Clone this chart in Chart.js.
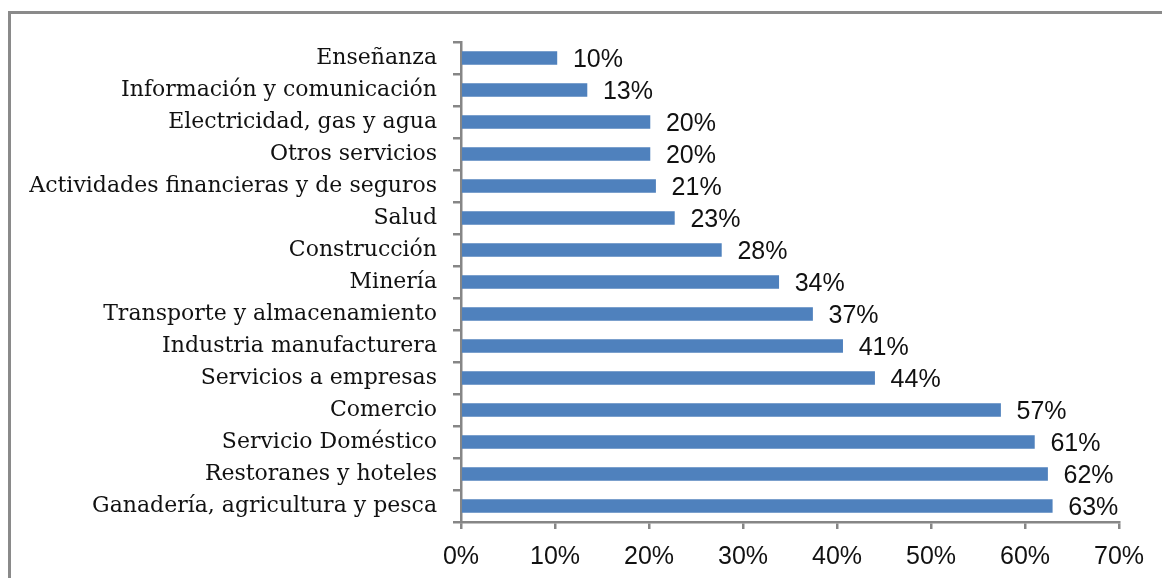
<!DOCTYPE html>
<html>
<head>
<meta charset="utf-8">
<script src="https://cdn.jsdelivr.net/npm/chart.js"></script>
<style>
  html, body { margin: 0; padding: 0; background: #fff; }
  #wrap { position: relative; width: 1162px; height: 578px; overflow: hidden; }
  #frame { position: absolute; left: 8px; top: 11px; width: 1300px; height: 700px;
           border-left: 3px solid #8a8a8a; border-top: 3px solid #8a8a8a; }
  canvas { position: absolute; left: 0; top: 0; }
</style>
</head>
<body>
<div id="wrap">
  <div id="frame"></div>
  <canvas id="chart" width="1162" height="578"></canvas>
</div>
<script>
// sectors, top to bottom
const sectors = [
  'Enseñanza',
  'Información y comunicación',
  'Electricidad, gas y agua',
  'Otros servicios',
  'Actividades financieras y de seguros',
  'Salud',
  'Construcción',
  'Minería',
  'Transporte y almacenamiento',
  'Industria manufacturera',
  'Servicios a empresas',
  'Comercio',
  'Servicio Doméstico',
  'Restoranes y hoteles',
  'Ganadería, agricultura y pesca'
];
// share, in percent
const shares = [10.2, 13.4, 20.1, 20.1, 20.7, 22.7, 27.7, 33.8, 37.4, 40.6, 44.0, 57.4, 61.0, 62.4, 62.9];
const xTicks = [0, 10, 20, 30, 40, 50, 60, 70];

const SERIF = '"DejaVu Serif", serif';
const SANS = '"Liberation Sans", sans-serif';
const AXIS = '#868686';

// writes the value next to each bar
const valueLabels = {
  id: 'valueLabels',
  afterDatasetsDraw(chart) {
    const ctx = chart.ctx;
    const meta = chart.getDatasetMeta(0);
    ctx.save();
    ctx.font = '25px ' + SANS;
    ctx.fillStyle = '#111';
    ctx.textAlign = 'left';
    ctx.textBaseline = 'middle';
    meta.data.forEach((bar, i) => {
      ctx.fillText(Math.round(shares[i]) + '%', bar.x + 16, bar.y + 2);
    });
    ctx.restore();
  }
};

new Chart(document.getElementById('chart'), {
  type: 'bar',
  data: {
    labels: sectors,
    datasets: [{
      data: shares,
      backgroundColor: '#4F81BD',
      borderWidth: 0,
      barThickness: 13
    }]
  },
  options: {
    indexAxis: 'y',
    responsive: false,
    animation: false,
    layout: { padding: { top: 42, right: 43, left: 0, bottom: 0 } },
    plugins: {
      legend: { display: false },
      tooltip: { enabled: false }
    },
    scales: {
      x: {
        min: 0,
        max: 70,
        afterBuildTicks: (s) => { s.ticks = xTicks.map((v) => ({ value: v })); },
        afterFit: (s) => { s.height = 56; },
        border: { color: AXIS, width: 2.5 },
        grid: { drawOnChartArea: false, drawTicks: true, tickLength: 7, color: AXIS, lineWidth: 2.5 },
        ticks: {
          color: '#111',
          font: { family: SANS, size: 25 },
          padding: 13,
          maxRotation: 0,
          callback: (v) => v + '%'
        }
      },
      y: {
        afterFit: (s) => { s.width = 461; },
        border: { color: AXIS, width: 2.5 },
        grid: { drawOnChartArea: false, drawTicks: true, tickLength: 8, color: AXIS, lineWidth: 2.5 },
        ticks: {
          color: '#111',
          font: { family: SERIF, size: 22 },
          padding: 16,
          autoSkip: false
        }
      }
    }
  },
  plugins: [valueLabels]
});
</script>
</body>
</html>
